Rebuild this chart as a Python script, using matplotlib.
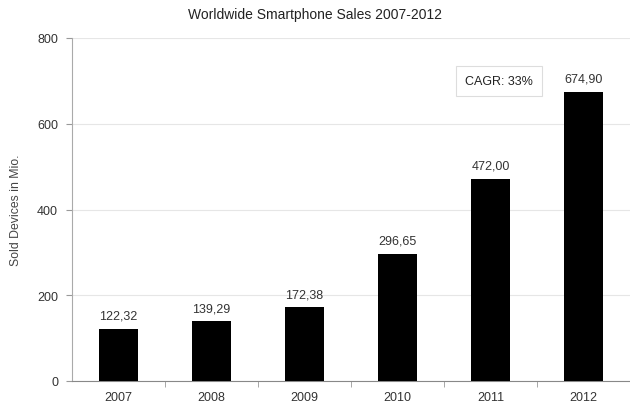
import matplotlib
matplotlib.use("Agg")
import matplotlib.pyplot as plt
import numpy as np

plt.rcParams['font.family'] = ['Liberation Sans', 'DejaVu Sans']

years = ["2007", "2008", "2009", "2010", "2011", "2012"]
sales = [122.32, 139.29, 172.38, 296.65, 472.00, 674.90]
y_ticks = [0, 200, 400, 600, 800]

fig = plt.figure(figsize=(6.30, 4.06), dpi=100)
W, H = 630, 406
left, right, top, bottom = 72, 630, 39, 382
ax = fig.add_axes([left / W, 1 - bottom / H, (right - left) / W, (bottom - top) / H])

x = np.arange(len(years))
ax.bar(x, sales, width=0.41, color="black", zorder=3)

for xi, v in zip(x, sales):
    ax.text(xi, v + 16, f"{v:.2f}".replace(".", ","), ha="center", va="bottom",
            fontsize=9, color="#333333")

step = 94
ax.set_xlim(-0.5, -0.5 + (right - left) / step)
ax.set_ylim(0, 800)

ax.set_xticks(x)
ax.set_xticklabels(years, fontsize=9, color="#333333")
ax.tick_params(axis="x", length=0, pad=7)
ax.set_xticks(np.arange(len(years)) + 0.5, minor=True)
ax.tick_params(axis="x", which="minor", length=4, color="#999999", direction="out")

ax.set_yticks(y_ticks)
ax.set_yticklabels([str(t) for t in y_ticks], fontsize=9, color="#333333")
ax.tick_params(axis="y", length=4, color="#999999", pad=6)

ax.grid(axis="y", color="#e6e6e6", linewidth=0.8, zorder=0)
for s in ["top", "right"]:
    ax.spines[s].set_visible(False)
ax.spines["left"].set_color("#aaaaaa")
ax.spines["bottom"].set_color("#888888")

ax.set_ylabel("Sold Devices in Mio.", fontsize=8.8, color="#444444")
ax.yaxis.set_label_coords((22 - left) / (right - left), 0.5)

fig.text(0.5, 1 - 15 / H, "Worldwide Smartphone Sales 2007-2012", ha="center",
         va="center", fontsize=10, color="#222222")

ax.text(499 / W, 1 - 82 / H, "CAGR: 33%", transform=fig.transFigure,
        ha="center", va="center", fontsize=9, color="#222222",
        bbox=dict(boxstyle="square,pad=0.7", facecolor="white",
                  edgecolor="#dddddd", linewidth=0.8), zorder=5)

fig.savefig("out.png", dpi=100)
